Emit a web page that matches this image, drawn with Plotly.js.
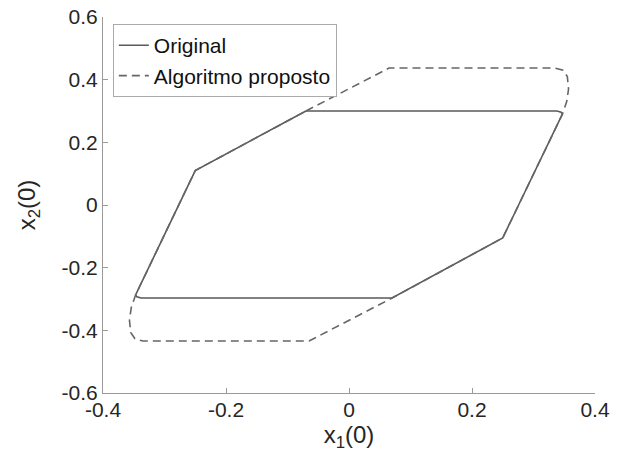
<!DOCTYPE html>
<html>
<head>
<meta charset="utf-8">
<script src="https://cdn.plot.ly/plotly-3.0.1.min.js"></script>
<style>html,body{margin:0;padding:0;background:#fff;}#chart{width:618px;height:465px;}</style>
</head>
<body>
<div id="chart"></div>
<script>
// Original region (solid)
const origX = [-0.07, 0.338, 0.345, 0.347, 0.25, 0.07, -0.338, -0.345, -0.347, -0.25, -0.07];
const origY = [0.3, 0.3, 0.296, 0.29, -0.105, -0.297, -0.297, -0.293, -0.287, 0.11, 0.3];
// Proposed algorithm region (dashed)
const propX = [-0.07, 0.065, 0.335, 0.348, 0.355, 0.357, 0.354, 0.347, 0.25, 0.07, -0.065, -0.335, -0.348, -0.355, -0.357, -0.354, -0.347, -0.25, -0.07];
const propY = [0.3, 0.437, 0.437, 0.43, 0.41, 0.37, 0.33, 0.29, -0.105, -0.297, -0.434, -0.434, -0.427, -0.407, -0.367, -0.327, -0.287, 0.11, 0.3];
const seriesNames = ["Original", "Algoritmo proposto"];
const xTicks = [-0.4, -0.2, 0, 0.2, 0.4];
const xTickText = ["-0.4", "-0.2", "0", "0.2", "0.4"];
const yTicks = [-0.6, -0.4, -0.2, 0, 0.2, 0.4, 0.6];
const yTickText = ["-0.6", "-0.4", "-0.2", "0", "0.2", "0.4", "0.6"];

const font = "Liberation Sans, Arial, Helvetica, sans-serif";
const traces = [
  {x: origX, y: origY, mode: "lines", name: seriesNames[0],
   line: {color: "#5a5a5a", width: 1.6}},
  {x: propX, y: propY, mode: "lines", name: seriesNames[1],
   line: {color: "#666666", width: 1.6, dash: "8px,5px"}}
];
const axisCommon = {
  showgrid: false, zeroline: false, showline: true, linecolor: "#9a9a9a", linewidth: 1,
  ticks: "inside", ticklen: 5, tickcolor: "#9a9a9a", tickwidth: 1,
  tickfont: {family: font, size: 21, color: "#262626"}, mirror: false
};
const layout = {
  width: 618, height: 465,
  margin: {l: 103, r: 23, t: 17, b: 72},
  paper_bgcolor: "#fff", plot_bgcolor: "#fff",
  showlegend: true,
  legend: {x: 0.02, y: 0.981, xanchor: "left", yanchor: "top",
    bgcolor: "#fff", bordercolor: "#aaaaaa", borderwidth: 1,
    font: {family: font, size: 21, color: "#111"}, tracegroupgap: 0},
  xaxis: Object.assign({}, axisCommon, {range: [-0.4, 0.4], tickvals: xTicks, ticktext: xTickText,
    ticklabelstandoff: -2,
    title: {text: "x<sub>1</sub>(0)", font: {family: font, size: 24, color: "#262626"}, standoff: 4}}),
  yaxis: Object.assign({}, axisCommon, {range: [-0.6, 0.6], tickvals: yTicks, ticktext: yTickText,
    title: {text: "x<sub>2</sub>(0)", font: {family: font, size: 24, color: "#262626"}, standoff: 19}})
};
Plotly.newPlot("chart", traces, layout, {displayModeBar: false, staticPlot: true});
</script>
</body>
</html>
